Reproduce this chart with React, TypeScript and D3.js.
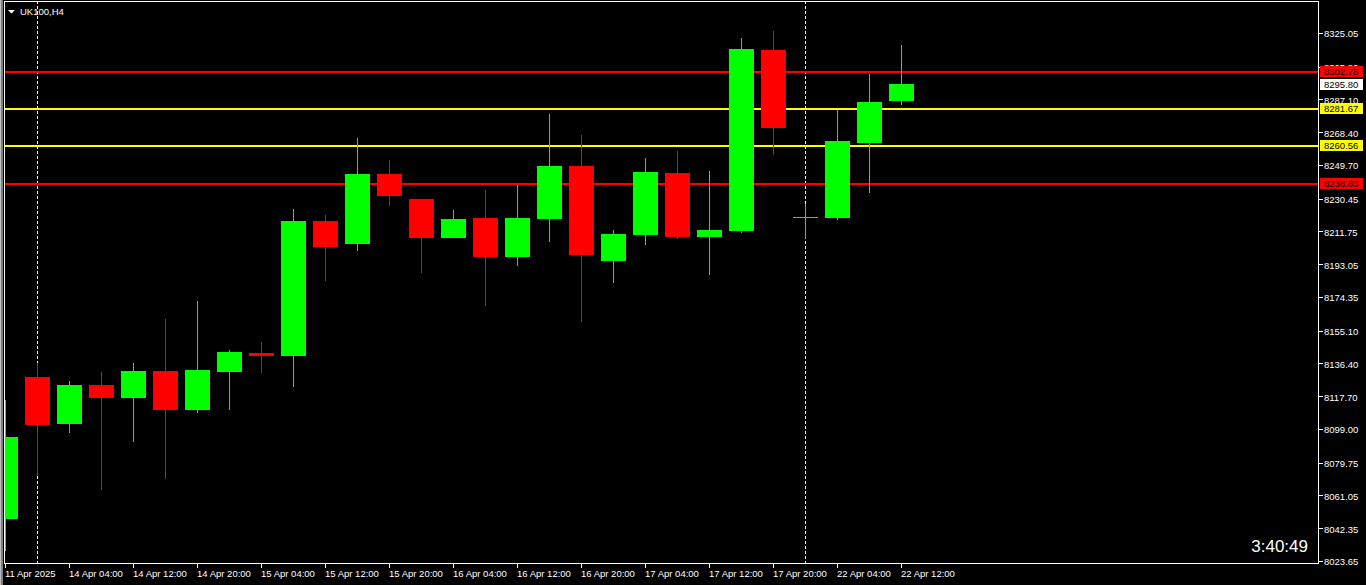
import React from "react";
import * as d3 from "d3";

const times = [
  "11 Apr 20:00", "14 Apr 00:00", "14 Apr 04:00", "14 Apr 08:00", "14 Apr 12:00", "14 Apr 16:00", "14 Apr 20:00",
  "15 Apr 00:00", "15 Apr 04:00", "15 Apr 08:00", "15 Apr 12:00", "15 Apr 16:00", "15 Apr 20:00",
  "16 Apr 00:00", "16 Apr 04:00", "16 Apr 08:00", "16 Apr 12:00", "16 Apr 16:00", "16 Apr 20:00",
  "17 Apr 00:00", "17 Apr 04:00", "17 Apr 08:00", "17 Apr 12:00", "17 Apr 16:00", "17 Apr 20:00",
  "22 Apr 00:00", "22 Apr 04:00", "22 Apr 08:00", "22 Apr 12:00",
];
const opens = [
  8047.8, 8128.7, 8101.9, 8124.1, 8116.9, 8132.1, 8110.0, 8131.7, 8142.4, 8140.9, 8217.7, 8204.8, 8244.6, 8230.3, 8208.2,
  8219.5, 8197.4, 8219.1, 8249.1, 8195.1, 8209.9, 8245.1, 8208.8, 8212.2, 8315.4, 8219.9, 8219.6, 8262.3, 8286.4,
];
const highs = [
  8115.6, 8136.7, 8126.4, 8131.6, 8136.7, 8161.8, 8172.1, 8144.1, 8148.7, 8224.6, 8221.2, 8265.1, 8252.6, 8230.5, 8224.0,
  8235.4, 8238.3, 8278.8, 8266.8, 8212.6, 8253.7, 8257.7, 8246.3, 8322.2, 8326.2, 8227.4, 8281.1, 8301.7, 8318.2,
];
const lows = [
  8029.6, 8072.4, 8096.9, 8064.4, 8091.8, 8070.6, 8108.3, 8110.0, 8131.2, 8123.2, 8183.7, 8200.8, 8226.5, 8188.2, 8207.9,
  8169.4, 8192.2, 8205.9, 8160.3, 8182.5, 8204.2, 8207.6, 8187.1, 8211.1, 8255.6, 8207.3, 8218.5, 8233.9, 8284.1,
];
const closes = [
  8094.5, 8101.3, 8124.1, 8116.9, 8132.1, 8110.0, 8132.7, 8143.0, 8140.9, 8217.7, 8203.1, 8244.6, 8232.2, 8208.2, 8218.9,
  8197.4, 8219.5, 8249.1, 8198.5, 8210.3, 8245.7, 8208.8, 8212.6, 8315.9, 8271.0, 8219.9, 8263.4, 8285.7, 8295.8,
];

const timeTickLabels = [
  "11 Apr 2025", "14 Apr 04:00", "14 Apr 12:00", "14 Apr 20:00", "15 Apr 04:00", "15 Apr 12:00", "15 Apr 20:00",
  "16 Apr 04:00", "16 Apr 12:00", "16 Apr 20:00", "17 Apr 04:00", "17 Apr 12:00", "17 Apr 20:00", "22 Apr 04:00", "22 Apr 12:00",
];
const timeTickAt = [
  "11 Apr 20:00", "14 Apr 04:00", "14 Apr 12:00", "14 Apr 20:00", "15 Apr 04:00", "15 Apr 12:00", "15 Apr 20:00",
  "16 Apr 04:00", "16 Apr 12:00", "16 Apr 20:00", "17 Apr 04:00", "17 Apr 12:00", "17 Apr 20:00", "22 Apr 04:00", "22 Apr 12:00",
];
const separators = ["14 Apr 00:00", "22 Apr 00:00"];

const priceTicks = [
  8325.05, 8305.8, 8287.1, 8268.4, 8249.7, 8230.45, 8211.75, 8193.05, 8174.35, 8155.1, 8136.4, 8117.7, 8099.0,
  8079.75, 8061.05, 8042.35, 8023.65,
];
const levelValues = [8302.78, 8281.67, 8260.56, 8238.83];
const levelColors = ["#ff0000", "#ffff00", "#ffff00", "#ff0000"];
const currentPrice = 8295.8;
const symbolTitle = "UK100,H4";
const timerText = "3:40:49";

const W = 1366;
const H = 585;
const plotLeft = 4;
const plotRight = 1318;
const plotTop = 1;
const plotBottom = 563;
const FONT = "Tahoma, 'Liberation Sans', Arial, sans-serif";

export default function App() {
  const x = d3.scalePoint<string>().domain(times).range([5.5, 5.5 + 32 * (times.length - 1)]);
  const y = d3.scaleLinear().domain([8023.65, 8325.05]).range([561, 33]);
  const bull = "#00ff00";
  const bear = "#ff0000";

  return (
    <svg
      width={W}
      height={H}
      style={{ position: "fixed", left: 0, top: 0, background: "#000", display: "block" }}
      shapeRendering="crispEdges"
    >
      <rect x={0} y={0} width={W} height={H} fill="#000" />
      <defs>
        <clipPath id="plot">
          <rect x={plotLeft + 1} y={plotTop + 1} width={plotRight - plotLeft - 1} height={plotBottom - plotTop - 1} />
        </clipPath>
      </defs>
      {/* outer window edges */}
      <line x1={0.5} y1={0} x2={0.5} y2={H} stroke="#c0c0c0" />
      <line x1={1.5} y1={0} x2={1.5} y2={H} stroke="#808080" />
      <line x1={2.5} y1={0} x2={2.5} y2={H} stroke="#808080" />

      <g clipPath="url(#plot)">
        {separators.map((s) => (
          <line
            key={s}
            x1={Math.round(x(s)!) + 0.5 - 1}
            x2={Math.round(x(s)!) + 0.5 - 1}
            y1={plotTop}
            y2={plotBottom}
            stroke="#ffffff"
            strokeDasharray="3,2"
          />
        ))}
        {levelValues.map((v, i) => (
          <line key={v} x1={plotLeft} x2={plotRight} y1={y(v)} y2={y(v)} stroke={levelColors[i]} strokeWidth={2} />
        ))}
        {times.map((t, i) => {
          const cx = Math.floor(x(t)!);
          const up = closes[i] >= opens[i];
          const col = up ? bull : bear;
          const yTop = y(Math.max(opens[i], closes[i]));
          const yBot = y(Math.min(opens[i], closes[i]));
          const doji = Math.abs(closes[i] - opens[i]) < 0.05;
          return (
            <g key={t}>
              <line x1={cx + 0.5} x2={cx + 0.5} y1={y(highs[i])} y2={y(lows[i])} stroke={col} />
              {doji ? (
                <line x1={cx - 12} x2={cx + 13} y1={Math.round(yTop) + 0.5} y2={Math.round(yTop) + 0.5} stroke={col} />
              ) : (
                <rect x={cx - 12} y={yTop} width={25} height={Math.max(2, yBot - yTop)} fill={col} />
              )}
            </g>
          );
        })}
      </g>

      {/* frame */}
      <line x1={plotLeft + 0.5} x2={plotLeft + 0.5} y1={plotTop} y2={plotBottom + 0.5} stroke="#ffffff" />
      <line x1={plotLeft} x2={plotRight + 0.5} y1={plotTop + 0.5} y2={plotTop + 0.5} stroke="#ffffff" />
      <line x1={plotRight + 0.5} x2={plotRight + 0.5} y1={plotTop} y2={plotBottom + 0.5} stroke="#ffffff" />
      <line x1={plotLeft} x2={plotRight + 1} y1={plotBottom + 0.5} y2={plotBottom + 0.5} stroke="#ffffff" />

      {/* title */}
      <path d="M8,10 L15,10 L11.5,13.5 Z" fill="#ffffff" shapeRendering="auto" />
      <text x={20} y={15} fill="#ffffff" fontFamily={FONT} fontSize={9.5}>
        {symbolTitle}
      </text>

      {/* price axis */}
      {priceTicks.map((p) => (
        <g key={p}>
          <line x1={plotRight + 1} x2={plotRight + 5} y1={Math.round(y(p)) + 0.5} y2={Math.round(y(p)) + 0.5} stroke="#ffffff" />
          <text x={1324} y={y(p) + 1} dy="0.35em" fill="#ffffff" fontFamily={FONT} fontSize={9.5}>
            {d3.format(".2f")(p)}
          </text>
        </g>
      ))}
      {levelValues.map((v, i) => (
        <g key={"lbl" + v}>
          <rect x={1320} y={y(v) - 6} width={43} height={11} fill={levelColors[i]} />
          <text x={1324} y={y(v)} dy="0.35em" fill="#000000" fontFamily={FONT} fontSize={9.5}>
            {d3.format(".2f")(v)}
          </text>
        </g>
      ))}
      <g>
        <rect x={1320} y={y(currentPrice) - 5} width={43} height={11} fill="#ffffff" />
        <text x={1324} y={y(currentPrice) + 0.5} dy="0.35em" fill="#000000" fontFamily={FONT} fontSize={9.5}>
          {d3.format(".2f")(currentPrice)}
        </text>
      </g>

      {/* time axis */}
      {timeTickAt.map((t, i) => {
        const tx = Math.floor(x(t)!);
        return (
          <g key={t}>
            <line x1={tx + 0.5} x2={tx + 0.5} y1={plotBottom + 1} y2={plotBottom + 5} stroke="#ffffff" />
            <text x={tx} y={577} fill="#ffffff" fontFamily={FONT} fontSize={9.5}>
              {timeTickLabels[i]}
            </text>
          </g>
        );
      })}

      {/* timer */}
      <text x={1308} y={552} textAnchor="end" fill="#ffffff" fontFamily={FONT} fontSize={17}>
        {timerText}
      </text>
    </svg>
  );
}
